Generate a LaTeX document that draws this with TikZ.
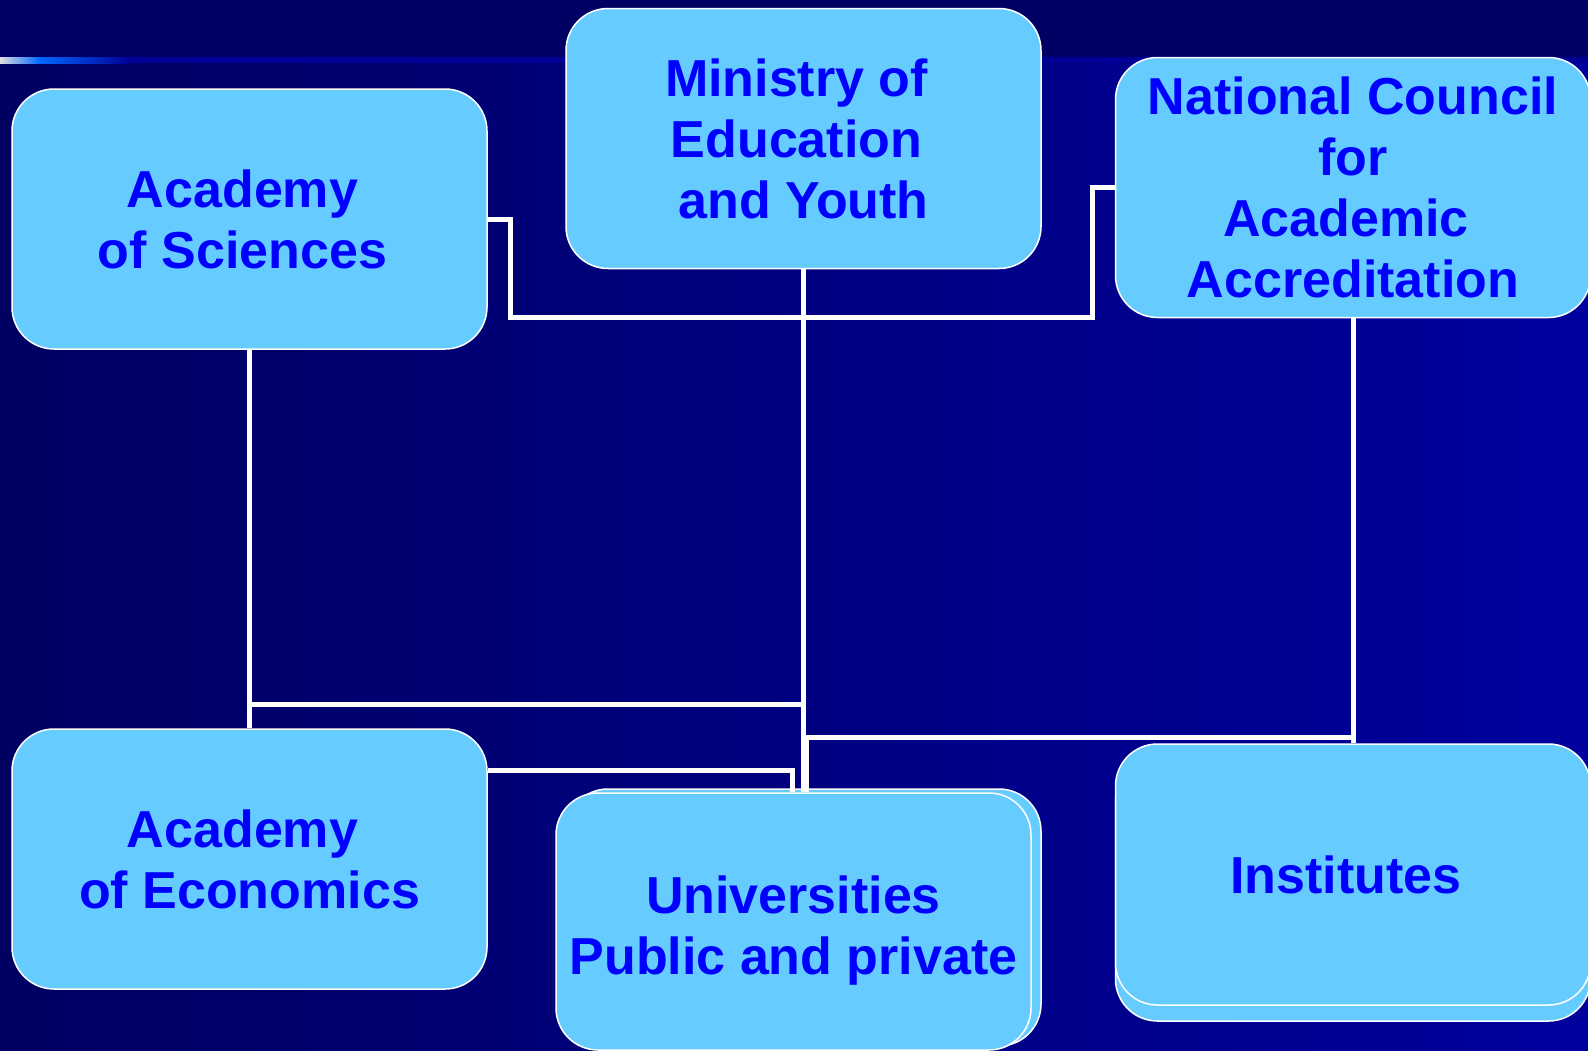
\documentclass[tikz,border=0pt]{standalone}
\usepackage{fontspec}
\setmainfont{Liberation Sans}
\usetikzlibrary{shadows}

\definecolor{bandnavy}{RGB}{0,0,100}
\definecolor{bodyleft}{RGB}{0,0,98}
\definecolor{bodyright}{RGB}{0,0,158}
\definecolor{boxfill}{RGB}{102,204,255}
\definecolor{boxtext}{RGB}{0,0,255}
\definecolor{rulelight}{RGB}{0,102,255}
\definecolor{ruledark}{RGB}{0,0,150}

% trailing blank kept at a line end
\newcommand{\tailgap}{\kern14pt}

\begin{document}
\begin{tikzpicture}[
        x=1pt, y=-1pt,
        org/.style={rectangle, rounded corners=42pt, draw=white, line width=1.5pt,
            fill=boxfill, text=boxtext, align=center,
            font=\bfseries\fontsize{52}{61}\selectfont,
            minimum width=475pt, minimum height=260pt, inner sep=0pt},
        link/.style={draw=white, line width=5pt}
    ]
        % Background and title rule
        \useasboundingbox (0,0) rectangle (1588,1050);
        \fill[left color=bodyleft, right color=bodyright] (0,60) rectangle (1588,1050);
        \fill[bandnavy] (0,0) rectangle (1588,60);
        \shade[left color=gray!25, right color=rulelight] (0,57) rectangle (40,63);
        \shade[left color=rulelight, right color=ruledark] (40,57) rectangle (130,63);
        \fill[ruledark] (130,57) rectangle (1588,63);

        % Top row
        \node[org] (acsci) at (249.5,219) {Academy\tailgap\\of Sciences\tailgap};
        \node[org] (ministry) at (803.5,138.5) {Ministry of\tailgap\\Education\tailgap\\and Youth};
        \node[org] (council) at (1353,187.5) {National Council\\for\\Academic\tailgap\\Accreditation};

        % Bottom row
        \node[org] (acecon) at (249.5,859) {Academy\tailgap\\of Economics};
        \node[org, minimum height=257pt,
            copy shadow={shadow xshift=10pt, shadow yshift=4pt}] (univ) at (793.5,921.5) {\rule{0pt}{56pt}Universities\\Public and private};
        \node[org, minimum height=261pt,
            copy shadow={shadow xshift=0pt, shadow yshift=-16pt}] (inst) at (1353,874.5) {Institutes\tailgap};

        % Junction points
        \coordinate (busA) at (510,317);
        \coordinate (busB) at (1092,317);
        \coordinate (mhub) at (803.5,704);
        \coordinate (nhub) at (806,737);
        \coordinate (ehub) at (792,770);

        % Academy of Sciences -> National Council
        \draw[link] (acsci.east) -| (busA) -- (busB) |- (council.west);

        % Ministry -> Universities
        \draw[link] (ministry.south) -- (ministry.south |- univ.north);

        % Academy of Sciences -> Academy of Economics
        \draw[link] (acsci.south) -- (acecon.north);
        \draw[link] (acsci.south |- mhub) -- (mhub);

        % National Council -> Institutes and Universities
        \draw[link] (council.south) -- (inst.north);
        \draw[link] (council.south |- nhub) -- (nhub) -- (nhub |- univ.north);

        % Academy of Economics -> Universities
        \draw[link] (acecon.east |- ehub) -- (ehub) -- (ehub |- univ.north);

    \end{tikzpicture}
\end{document}
